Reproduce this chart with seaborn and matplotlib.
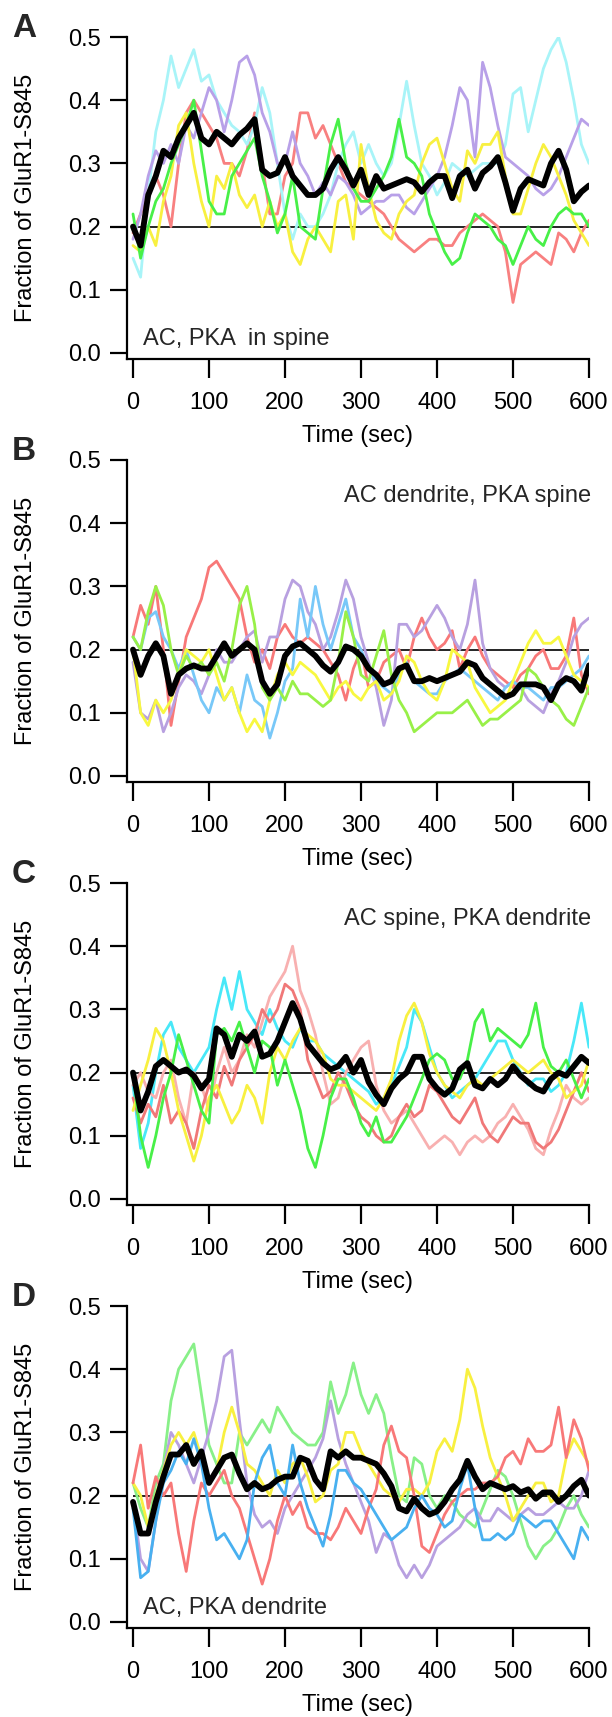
import numpy as np
import pandas as pd
import matplotlib
matplotlib.use("Agg")
import matplotlib.pyplot as plt
import seaborn as sns

# ---------------- data (10 s grid) ----------------
step_sec = 10
baseline = 0.2
x_ticks = [0, 100, 200, 300, 400, 500, 600]
y_ticks = [0.0, 0.1, 0.2, 0.3, 0.4, 0.5]
y_tick_labels = ["0.0", "0.1", "0.2", "0.3", "0.4", "0.5"]
x_label = "Time (sec)"
y_label = "Fraction of GluR1-S845"
panel_letters = ["A", "B", "C", "D"]
panel_titles = ["AC, PKA  in spine", "AC dendrite, PKA spine",
                "AC spine, PKA dendrite", "AC, PKA dendrite"]

A_red = [.19,.22,.25,.28,.25,.20,.30,.38,.40,.38,.36,.34,.30,.30,.28,.32,.38,.30,.22,.22,.28,.30,.38,.38,.34,.36,.33,.30,.27,.26,.25,.24,.23,.22,.20,.18,.17,.16,.17,.18,.18,.17,.17,.19,.20,.21,.22,.21,.20,.16,.08,.14,.15,.16,.15,.14,.19,.18,.16,.19,.21]
A_cyan = [.15,.12,.25,.35,.40,.47,.42,.45,.48,.43,.44,.40,.38,.36,.35,.33,.36,.42,.38,.30,.22,.18,.22,.20,.20,.22,.25,.30,.33,.35,.30,.33,.30,.28,.30,.36,.43,.36,.30,.28,.25,.27,.30,.29,.28,.29,.30,.30,.30,.33,.41,.42,.35,.40,.45,.48,.50,.46,.40,.33,.30]
A_lav = [.18,.22,.28,.32,.30,.33,.30,.36,.34,.38,.42,.40,.35,.40,.46,.47,.44,.38,.35,.30,.30,.35,.30,.28,.25,.27,.25,.28,.27,.25,.22,.23,.24,.24,.25,.25,.23,.22,.24,.26,.28,.31,.36,.42,.40,.31,.46,.42,.36,.31,.30,.29,.28,.26,.25,.26,.28,.31,.34,.37,.36]
A_yel = [.17,.16,.20,.17,.24,.28,.36,.38,.30,.24,.20,.28,.26,.30,.25,.23,.25,.20,.24,.20,.22,.16,.14,.18,.20,.18,.16,.24,.25,.18,.33,.26,.21,.19,.18,.22,.24,.25,.30,.33,.34,.30,.26,.24,.32,.30,.33,.33,.35,.28,.22,.22,.26,.30,.33,.31,.28,.25,.21,.19,.17]
A_grn = [.22,.15,.20,.24,.26,.30,.33,.36,.40,.32,.24,.22,.22,.28,.30,.32,.34,.28,.24,.19,.22,.28,.20,.19,.18,.26,.33,.37,.30,.26,.24,.24,.26,.28,.31,.37,.31,.30,.28,.22,.19,.16,.14,.15,.19,.22,.21,.20,.18,.17,.14,.17,.20,.18,.17,.20,.22,.23,.22,.22,.20]
A_mean = [.20,.17,.25,.28,.32,.31,.34,.36,.38,.34,.33,.35,.34,.33,.345,.355,.37,.29,.28,.285,.31,.28,.265,.25,.25,.26,.29,.31,.29,.265,.29,.25,.28,.26,.265,.27,.275,.27,.255,.27,.28,.28,.245,.28,.29,.26,.285,.295,.31,.27,.225,.26,.275,.27,.265,.30,.32,.29,.24,.255,.265]

B_red = [.22,.27,.24,.30,.20,.08,.15,.22,.25,.28,.33,.34,.32,.30,.28,.22,.18,.20,.17,.22,.24,.22,.21,.22,.21,.20,.18,.16,.12,.17,.20,.14,.15,.18,.19,.20,.17,.22,.25,.22,.20,.21,.23,.17,.20,.22,.19,.17,.16,.15,.14,.16,.17,.19,.20,.17,.17,.19,.25,.16,.13]
B_lav = [.18,.10,.09,.12,.07,.10,.14,.16,.15,.13,.16,.20,.18,.18,.20,.22,.23,.18,.22,.22,.28,.31,.30,.26,.24,.20,.22,.26,.31,.28,.22,.18,.14,.08,.12,.24,.24,.22,.23,.25,.27,.25,.22,.20,.24,.31,.21,.17,.15,.14,.15,.14,.12,.11,.10,.13,.15,.18,.22,.24,.25]
B_blue = [.22,.20,.25,.26,.22,.20,.17,.20,.16,.12,.10,.14,.12,.14,.10,.16,.12,.11,.06,.10,.15,.17,.28,.22,.30,.24,.20,.24,.28,.22,.20,.17,.15,.14,.13,.16,.18,.15,.14,.13,.13,.15,.16,.17,.16,.15,.14,.13,.12,.14,.15,.14,.14,.13,.12,.14,.14,.15,.16,.17,.19]
B_yel = [.20,.10,.08,.12,.10,.12,.16,.20,.19,.18,.20,.16,.12,.14,.10,.07,.09,.07,.12,.16,.18,.16,.18,.17,.16,.14,.12,.14,.15,.13,.12,.14,.15,.12,.13,.15,.19,.18,.15,.13,.12,.15,.20,.19,.18,.14,.12,.10,.11,.12,.15,.18,.21,.23,.21,.21,.22,.19,.16,.15,.14]
B_grn = [.22,.20,.26,.30,.27,.20,.16,.19,.17,.18,.16,.18,.15,.20,.27,.30,.24,.14,.12,.14,.12,.15,.13,.13,.12,.11,.12,.18,.26,.22,.16,.15,.19,.23,.16,.12,.10,.07,.08,.09,.10,.10,.10,.11,.12,.10,.08,.09,.09,.10,.11,.12,.17,.16,.14,.12,.11,.09,.08,.11,.14]
B_mean = [.20,.16,.19,.21,.19,.13,.16,.17,.175,.17,.17,.19,.21,.19,.20,.21,.20,.15,.13,.145,.19,.205,.21,.20,.19,.175,.165,.18,.205,.20,.19,.17,.16,.145,.15,.17,.175,.15,.15,.155,.15,.155,.16,.165,.18,.175,.155,.145,.135,.125,.13,.145,.145,.145,.14,.12,.145,.155,.15,.135,.175]

C_cyan = [.18,.08,.12,.20,.26,.28,.24,.22,.20,.22,.24,.30,.35,.30,.36,.30,.28,.26,.30,.27,.25,.24,.27,.25,.25,.23,.22,.21,.20,.19,.18,.17,.15,.16,.18,.21,.24,.30,.28,.24,.20,.18,.16,.17,.18,.19,.21,.23,.25,.25,.22,.20,.18,.19,.19,.17,.18,.20,.25,.31,.24]
C_pink = [.18,.20,.17,.16,.20,.22,.16,.12,.20,.18,.14,.20,.24,.20,.22,.26,.24,.28,.32,.34,.36,.40,.33,.30,.26,.20,.15,.16,.20,.22,.24,.25,.18,.14,.12,.13,.14,.12,.10,.08,.09,.10,.09,.07,.09,.10,.09,.10,.12,.13,.15,.13,.11,.08,.07,.11,.14,.18,.16,.15,.16]
C_red = [.16,.12,.15,.13,.18,.12,.14,.12,.08,.14,.18,.16,.21,.18,.22,.24,.26,.30,.28,.30,.34,.33,.30,.22,.19,.16,.17,.20,.18,.15,.13,.12,.10,.09,.10,.13,.15,.13,.14,.18,.17,.15,.13,.12,.14,.16,.12,.10,.09,.11,.13,.12,.12,.09,.08,.09,.11,.14,.17,.20,.17]
C_yel = [.14,.18,.22,.27,.25,.20,.14,.10,.06,.10,.16,.18,.15,.12,.14,.18,.16,.12,.20,.24,.22,.25,.27,.26,.25,.23,.19,.18,.18,.17,.16,.15,.14,.16,.19,.25,.29,.31,.28,.23,.20,.18,.17,.16,.18,.19,.18,.19,.20,.21,.22,.21,.20,.21,.22,.20,.19,.16,.17,.18,.22]
C_grn = [.20,.10,.05,.10,.16,.20,.26,.22,.18,.14,.12,.26,.27,.25,.28,.24,.20,.25,.24,.18,.22,.18,.14,.08,.05,.10,.16,.19,.19,.16,.12,.10,.13,.09,.09,.11,.13,.16,.19,.22,.23,.22,.19,.19,.22,.28,.30,.25,.27,.26,.25,.24,.26,.31,.24,.21,.20,.22,.19,.16,.19]
C_mean = [.20,.14,.17,.21,.22,.21,.20,.205,.195,.175,.19,.27,.26,.225,.26,.25,.265,.225,.23,.25,.28,.31,.285,.245,.23,.215,.205,.21,.225,.20,.22,.185,.165,.15,.175,.19,.20,.225,.225,.19,.175,.165,.175,.205,.215,.18,.175,.19,.18,.19,.21,.195,.185,.175,.17,.19,.20,.195,.21,.225,.215]

D_grn = [.22,.18,.15,.22,.25,.35,.40,.42,.44,.36,.28,.25,.22,.22,.30,.28,.30,.32,.30,.34,.32,.30,.29,.28,.28,.30,.38,.33,.36,.41,.36,.33,.36,.33,.26,.20,.19,.26,.25,.20,.18,.20,.19,.17,.16,.15,.18,.21,.24,.23,.20,.16,.12,.10,.12,.13,.15,.18,.20,.17,.15]
D_lav = [.19,.10,.08,.16,.24,.30,.28,.25,.22,.26,.30,.35,.42,.43,.32,.22,.17,.15,.16,.14,.18,.20,.22,.24,.26,.29,.35,.29,.25,.22,.19,.16,.11,.14,.13,.09,.07,.09,.07,.09,.12,.13,.14,.15,.17,.18,.16,.16,.18,.17,.16,.17,.18,.17,.17,.18,.19,.18,.18,.20,.24]
D_yel = [.22,.20,.15,.20,.24,.28,.30,.28,.30,.26,.22,.24,.30,.34,.30,.25,.24,.22,.20,.24,.22,.25,.26,.23,.19,.20,.24,.25,.30,.30,.27,.25,.23,.21,.20,.19,.21,.21,.20,.22,.27,.29,.27,.32,.40,.37,.31,.26,.23,.20,.16,.18,.20,.22,.22,.19,.20,.26,.29,.27,.25]
D_red = [.22,.28,.18,.23,.20,.22,.14,.08,.16,.22,.20,.22,.24,.20,.18,.14,.10,.06,.10,.16,.20,.17,.19,.15,.14,.14,.13,.15,.18,.16,.14,.18,.21,.28,.31,.27,.26,.20,.12,.11,.14,.17,.19,.20,.21,.21,.22,.22,.23,.26,.27,.25,.29,.27,.27,.28,.34,.26,.32,.29,.24]
D_blue = [.18,.07,.08,.16,.22,.24,.27,.25,.29,.25,.18,.13,.14,.12,.10,.13,.22,.26,.28,.22,.20,.28,.22,.18,.15,.12,.17,.24,.24,.22,.21,.19,.17,.15,.13,.14,.15,.18,.20,.18,.17,.15,.16,.21,.25,.18,.13,.13,.14,.13,.14,.17,.16,.15,.16,.16,.14,.12,.10,.15,.13]
D_mean = [.19,.14,.14,.19,.23,.265,.265,.28,.25,.27,.22,.24,.26,.265,.235,.21,.22,.21,.215,.225,.23,.23,.26,.255,.225,.21,.27,.26,.27,.26,.26,.255,.25,.235,.215,.18,.175,.195,.18,.17,.175,.19,.21,.225,.255,.23,.21,.22,.215,.21,.215,.205,.21,.195,.205,.205,.19,.20,.215,.225,.20]

panel_traces = [
    [("red", A_red, "#F88080"), ("cyan", A_cyan, "#A8F4F8"), ("lavender", A_lav, "#B8A0E8"),
     ("yellow", A_yel, "#F8F040"), ("green", A_grn, "#48F048")],
    [("red", B_red, "#F87878"), ("lavender", B_lav, "#B8A0E0"), ("blue", B_blue, "#78C8F8"),
     ("yellow", B_yel, "#F8F840"), ("green", B_grn, "#98F048")],
    [("cyan", C_cyan, "#48E8F8"), ("pink", C_pink, "#F8B0B0"), ("red", C_red, "#F07878"),
     ("yellow", C_yel, "#F8F040"), ("green", C_grn, "#48F048")],
    [("green", D_grn, "#88F088"), ("lavender", D_lav, "#B8A0E0"), ("yellow", D_yel, "#F8F040"),
     ("red", D_red, "#F87878"), ("blue", D_blue, "#48B0F0")],
]
panel_means = [A_mean, B_mean, C_mean, D_mean]

# ---------------- style ----------------
sns.set_style("ticks")
plt.rcParams["font.family"] = ["Liberation Sans", "DejaVu Sans"]
FS = 17

W, H = 612, 1717
fig = plt.figure(figsize=(W / 100, H / 100), dpi=100)

ax_left_px, ax_right_px = 127, 589
ax_tops_px = [37, 460, 883, 1306]
ax_h_px = 322

for i in range(4):
    top = ax_tops_px[i]
    ax = fig.add_axes([ax_left_px / W, 1 - (top + ax_h_px) / H,
                       (ax_right_px - ax_left_px) / W, ax_h_px / H])
    frames = []
    pal = {}
    for name, vals, col in panel_traces[i]:
        frames.append(pd.DataFrame({"time": np.arange(len(vals)) * step_sec,
                                    "frac": vals, "trace": name}))
        pal[name] = col
    df = pd.concat(frames, ignore_index=True)
    m = panel_means[i]
    tm = np.arange(len(m)) * step_sec
    ax.hlines(baseline, tm[0], tm[-1], color="black", lw=1.2, zorder=1)
    sns.lineplot(data=df, x="time", y="frac", hue="trace", palette=pal,
                 estimator=None, lw=2.0, legend=False, ax=ax, zorder=2)
    sns.lineplot(x=tm, y=m, color="black", lw=4.2, ax=ax, zorder=3)

    ax.set_xlim(-7.9, 600)
    ax.set_ylim(-0.0095, 0.5)
    ax.set_xticks(x_ticks)
    ax.set_xticklabels([str(v) for v in x_ticks])
    ax.set_yticks(y_ticks)
    ax.set_yticklabels(y_tick_labels)
    sns.despine(ax=ax)
    for s in ("left", "bottom"):
        ax.spines[s].set_linewidth(1.6)
        ax.spines[s].set_color("black")
    ax.tick_params(axis="x", length=13.5, width=1.6, pad=10, labelsize=FS, colors="black")
    ax.tick_params(axis="y", length=12, width=1.6, pad=7, labelsize=FS, colors="black")
    ax.set_xlabel(x_label, fontsize=FS, color="black", va="top")
    ax.xaxis.set_label_coords(0.5, -0.205)
    ax.set_ylabel(y_label, fontsize=FS, color="black")
    ax.yaxis.set_label_coords(-0.195, 0.5)

    if i in (0, 3):
        ax.text(12.5, 0.012, panel_titles[i], fontsize=FS, ha="left", va="baseline")
    else:
        ax.text(603, 0.433, panel_titles[i], fontsize=FS, ha="right", va="baseline")

    fig.text(12 / W, 1 - top / H, panel_letters[i], fontsize=24, fontweight="bold",
             ha="left", va="baseline")

fig.savefig("out.png", dpi=100)
